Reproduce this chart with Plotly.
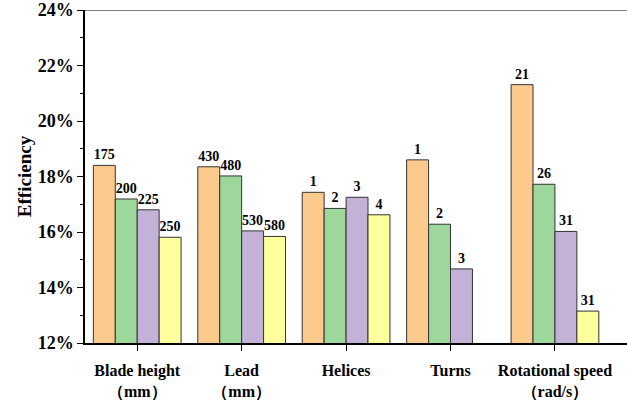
import plotly.graph_objects as go

# Parameter groups shown on the x axis
categories = ["Blade height<br>（mm）", "Lead<br>（mm）", "Helices", "Turns",
              "Rotational speed<br>（rad/s）"]

# Efficiency (%) for each of the four levels tested in each group
level1 = [18.40, 18.35, 17.43, 18.60, 21.31]
level2 = [17.19, 18.02, 16.85, 16.28, 17.72]
level3 = [16.80, 16.04, 17.25, 14.67, 16.02]
level4 = [15.81, 15.84, 16.62, None, 13.15]

# Parameter values printed above each bar
labels1 = ["175", "430", "1", "1", "21"]
labels2 = ["200", "480", "2", "2", "26"]
labels3 = ["225", "530", "3", "3", "31"]
labels4 = ["250", "580", "4", "", "31"]

colors = ["#FDCA8E", "#9DD79B", "#C3B1D7", "#FFFF9E"]
serif = "Liberation Serif"

fig = go.Figure()
for vals, labs, col in zip([level1, level2, level3, level4],
                           [labels1, labels2, labels3, labels4], colors):
    fig.add_trace(go.Bar(
        x=list(range(len(categories))), y=vals, text=labs,
        textposition="outside", cliponaxis=False,
        textfont=dict(family=serif, size=14, color="black", weight="bold"),
        marker=dict(color=col, line=dict(color="#333333", width=1)),
        showlegend=False,
    ))

fig.update_layout(
    width=627, height=401,
    margin=dict(l=85, r=0, t=10, b=58),
    paper_bgcolor="white", plot_bgcolor="white",
    barmode="group", bargap=0.16, bargroupgap=0,
    font=dict(family=serif, color="black"),
    xaxis=dict(
        range=[-0.5, 4.69], tickmode="array",
        tickvals=list(range(len(categories))), ticktext=categories,
        ticks="outside", ticklen=6, tickwidth=1.2, tickcolor="black",
        ticklabelstandoff=6,
        showline=True, linecolor="black", linewidth=1.5,
        showgrid=False, zeroline=False,
        tickfont=dict(family=serif, size=16, weight="bold"),
    ),
    yaxis=dict(
        range=[12, 24], tickvals=[12, 14, 16, 18, 20, 22, 24],
        ticktext=["12%", "14%", "16%", "18%", "20%", "22%", "24%"],
        ticks="outside", ticklen=6, tickwidth=1.2, tickcolor="black",
        minor=dict(dtick=1, ticks="outside", ticklen=3, tickcolor="black",
                   tickwidth=1, showgrid=False),
        showline=True, linecolor="black", linewidth=1.5,
        showgrid=False, zeroline=False,
        tickfont=dict(family=serif, size=18, weight="bold"),
        title=dict(text="Efficiency", standoff=1,
                   font=dict(family=serif, size=19, weight="bold")),
    ),
    shapes=[dict(type="line", xref="paper", yref="y", x0=0, x1=1, y0=24, y1=24,
                 line=dict(color="black", width=1.2))],
)

fig.write_html("out.html")
